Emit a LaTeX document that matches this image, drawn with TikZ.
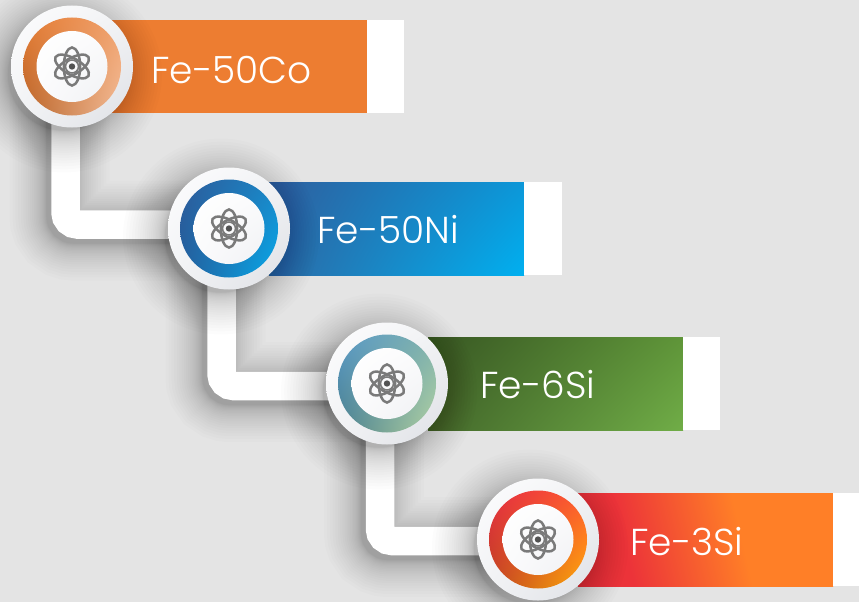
\documentclass[tikz,border=0pt]{standalone}
\usepackage{fontspec}
\setmainfont{Poppins}[UprightFont={* Light}]
\usetikzlibrary{calc,shadings}
\pgfdeclarelayer{connshadow}\pgfdeclarelayer{bars}\pgfdeclarelayer{conn}\pgfdeclarelayer{circshadow}
\pgfsetlayers{connshadow,bars,conn,circshadow,main}
\definecolor{bgc}{HTML}{E4E4E4}
\definecolor{barO}{HTML}{ED7D31}
\definecolor{bbA}{HTML}{2E5F9E}\definecolor{bbB}{HTML}{0C97D8}\definecolor{bbC}{HTML}{2C6AA6}\definecolor{bbD}{HTML}{00B0F0}
\definecolor{bgA}{HTML}{385723}\definecolor{bgB}{HTML}{5F9539}\definecolor{bgC}{HTML}{44692B}\definecolor{bgD}{HTML}{70AD47}
\definecolor{roA}{HTML}{E57C33}\definecolor{roB}{HTML}{F0A26E}\definecolor{roC}{HTML}{B8642A}\definecolor{roD}{HTML}{F2BC98}
\definecolor{rbA}{HTML}{2D5C9B}\definecolor{rbB}{HTML}{1B86C6}\definecolor{rbC}{HTML}{225F9D}\definecolor{rbD}{HTML}{07A9EA}
\definecolor{rgA}{HTML}{5A9AC8}\definecolor{rgB}{HTML}{80B2AC}\definecolor{rgC}{HTML}{4A7F8C}\definecolor{rgD}{HTML}{B2D2A2}
\definecolor{rrA}{HTML}{E62E42}\definecolor{rrB}{HTML}{FF5A30}\definecolor{rrC}{HTML}{BE4420}\definecolor{rrD}{HTML}{FFAC08}
\definecolor{odA}{HTML}{FDFDFE}\definecolor{odB}{HTML}{F2F3F5}\definecolor{odC}{HTML}{DEE0E5}
\definecolor{idA}{HTML}{FFFFFF}\definecolor{idB}{HTML}{FBFBFC}\definecolor{idC}{HTML}{F0F1F4}
\pgfdeclarehorizontalshading{redbar}{100bp}{
  rgb(0bp)=(0.898,0.188,0.235);
  rgb(32bp)=(0.925,0.200,0.224);
  rgb(58bp)=(1,0.498,0.153);
  rgb(100bp)=(1,0.498,0.153)}
\tikzset{
 cq/.style n args={4}{upper left=#1,upper right=#2,lower left=#3,lower right=#4},
 barbox/.style={rectangle,minimum width=255pt,minimum height=93pt,inner sep=0pt,outer sep=0pt},
 tab/.style={rectangle,fill=white,minimum height=93pt,inner sep=0pt,outer sep=0pt,anchor=west},
 outerdisc/.style={circle,minimum size=122pt,inner sep=0pt,outer sep=0pt,cq={odA}{odB}{odB}{odC}},
 ring/.style={circle,minimum size=98pt,inner sep=0pt,outer sep=0pt},
 innerdisc/.style={circle,minimum size=71pt,inner sep=0pt,outer sep=0pt,cq={idA}{idB}{idB}{idC}},
 barlabel/.style={text=white,font=\fontsize{37.5pt}{40pt}\selectfont,anchor=base west,inner sep=0pt},
 conn/.style={draw=white,line width=28.5pt,rounded corners=12pt},
 pics/atomicon/.style={code={
   \foreach \a in {0,60,-60}{\draw[rotate=\a,draw=black!52,line width=2.5pt] (0,0) ellipse [x radius=8.2,y radius=19];}
   \draw[draw=black!52,line width=1.6pt] (0,0) circle [radius=6.5];
   \fill[black!68] (0,0) circle [radius=3.2];
 }}
}
% soft shadow of a disc: layers crowd near the disc and thin out outwards
\newcommand{\discshadow}[1]{%
  \foreach \i in {1,...,26}{%
    \pgfmathsetmacro{\r}{56+42*(\i/26)^2}%
    \fill[black,opacity=.011] ([xshift=-8pt,yshift=-8pt]#1.center) circle [radius=\r];}%
}
\begin{document}
\begin{tikzpicture}[x=1pt,y=-1pt]
\useasboundingbox (0,0) rectangle (859,602);
\begin{pgfonlayer}{connshadow}
\fill[bgc] (-1,-1) rectangle (860,603);
\end{pgfonlayer}
% bars
\begin{pgfonlayer}{bars}
\node[barbox,anchor=west,fill=barO] (b1) at (112,66.5) {};
\node[barbox,anchor=west,cq={bbA}{bbB}{bbC}{bbD}] (b2) at (269,228.5) {};
\node[barbox,anchor=west,cq={bgA}{bgB}{bgC}{bgD}] (b3) at (428,383.5) {};
\node[barbox,anchor=west,shade,shading=redbar,shading angle=13] (b4) at (578,539.5) {};
\node[tab,minimum width=37pt] (t1) at (b1.east) {};
\node[tab,minimum width=38pt] (t2) at (b2.east) {};
\node[tab,minimum width=37pt] (t3) at (b3.east) {};
\node[tab,minimum width=27pt] (t4) at (b4.east) {};
\end{pgfonlayer}
% discs
\node[outerdisc] (c1) at (72,66.5) {};
\node[ring,cq={roA}{roB}{roC}{roD}] (r1) at (c1) {};
\node[innerdisc] (i1) at (c1) {};
\pic at (c1) {atomicon};
\node[outerdisc] (c2) at (229,228.5) {};
\node[ring,cq={rbA}{rbB}{rbC}{rbD}] (r2) at (c2) {};
\node[innerdisc] (i2) at (c2) {};
\pic at (c2) {atomicon};
\node[outerdisc] (c3) at (387,383.5) {};
\node[ring,cq={rgA}{rgB}{rgC}{rgD}] (r3) at (c3) {};
\node[innerdisc] (i3) at (c3) {};
\pic at (c3) {atomicon};
\node[outerdisc] (c4) at (538,539.5) {};
\node[ring,cq={rrA}{rrB}{rrC}{rrD}] (r4) at (c4) {};
\node[innerdisc] (i4) at (c4) {};
\pic at (c4) {atomicon};
% labels
\node[barlabel] (l1) at (151,83) {Fe-50Co};
\node[barlabel] (l2) at (317,243) {Fe-50Ni};
\node[barlabel] (l3) at (480,398) {Fe-6Si};
\node[barlabel] (l4) at (630,555) {Fe-3Si};
% connectors
\begin{pgfonlayer}{connshadow}
\foreach \p/\q/\dx/\dy in {c1/c2/-6.5/4,c2/c3/-7.5/-2.5,c3/c4/-7/-1.5}{
  \foreach \i in {1,...,24}{
    \pgfmathsetmacro{\w}{26+74*(\i/24)^2}
    \draw[black,opacity=.011,line width=\w pt,rounded corners=14pt]
      ([xshift=\dx pt-6pt,yshift=-6pt]\p.center) |- ([yshift=\dy pt-6pt]\q.center);
  }
}
\end{pgfonlayer}
\begin{pgfonlayer}{conn}
\draw[conn] ([xshift=-6.5pt]c1.center) |- ([yshift=4pt]c2.center);
\draw[conn] ([xshift=-7.5pt]c2.center) |- ([yshift=-2.5pt]c3.center);
\draw[conn] ([xshift=-7pt]c3.center) |- ([yshift=-1.5pt]c4.center);
\end{pgfonlayer}
\begin{pgfonlayer}{circshadow}
\discshadow{c1}\discshadow{c2}\discshadow{c3}\discshadow{c4}
\end{pgfonlayer}
\end{tikzpicture}
\end{document}
